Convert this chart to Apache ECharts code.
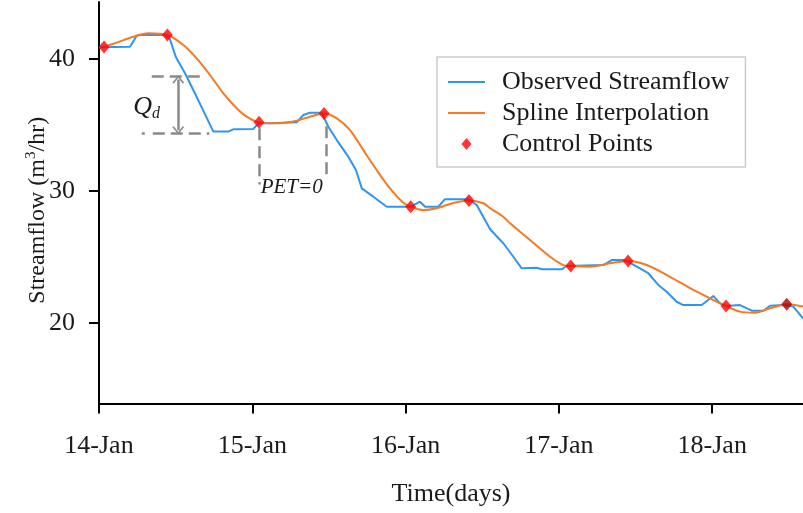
<!DOCTYPE html>
<html>
<head>
<meta charset="utf-8">
<script src="https://cdn.jsdelivr.net/npm/echarts@6/dist/echarts.min.js"></script>
<style>
  html, body { margin: 0; padding: 0; background: #fff; }
  #chart { width: 803px; height: 513px; }
</style>
</head>
<body>
<div id="chart"></div>
<script>
// Time axis: days since 14-Jan 00:00
const dayLabels = ['14-Jan', '15-Jan', '16-Jan', '17-Jan', '18-Jan'];
const dayTicks = [0, 1, 2, 3, 4];
const flowTicks = [20, 30, 40];

// Observed streamflow (m3/hr)
const obsDays = [0.000, 0.202, 0.246, 0.267, 0.431, 0.463, 0.502, 0.561, 0.615, 0.670,
  0.746, 0.843, 0.876, 1.007, 1.039, 1.115, 1.290, 1.333, 1.376, 1.453,
  1.496, 1.551, 1.626, 1.676, 1.714, 1.789, 1.877, 2.007, 2.033, 2.094,
  2.127, 2.213, 2.257, 2.409, 2.464, 2.551, 2.637, 2.670, 2.703, 2.757,
  2.855, 2.888, 3.018, 3.051, 3.290, 3.344, 3.431, 3.508, 3.583, 3.648,
  3.703, 3.768, 3.811, 3.931, 4.007, 4.051, 4.090, 4.181, 4.258, 4.333,
  4.377, 4.464, 4.529, 4.592];
const obsFlow = [40.89, 40.93, 41.77, 41.82, 41.82, 41.49, 40.13, 38.92, 37.65, 36.34,
  34.50, 34.50, 34.67, 34.70, 35.13, 35.13, 35.20, 35.76, 35.93, 35.93,
  34.87, 33.86, 32.60, 31.59, 30.20, 29.57, 28.81, 28.81, 28.81, 29.19,
  28.81, 28.81, 29.38, 29.38, 28.94, 27.10, 26.04, 25.53, 25.02, 24.14,
  24.19, 24.07, 24.07, 24.32, 24.39, 24.77, 24.77, 24.27, 23.77, 22.88,
  22.37, 21.61, 21.36, 21.36, 22.05, 21.49, 21.29, 21.36, 20.93, 20.93,
  21.31, 21.36, 21.24, 20.36];

// Spline through the control points
const splDays = [0.033, 0.115, 0.224, 0.322, 0.446, 0.550, 0.637, 0.724, 0.811, 0.898,
  0.963, 1.044, 1.159, 1.290, 1.376, 1.468, 1.551, 1.637, 1.724, 1.811,
  1.898, 1.985, 2.033, 2.115, 2.203, 2.311, 2.413, 2.507, 2.551, 2.637,
  2.681, 2.746, 2.811, 2.942, 3.029, 3.077, 3.203, 3.333, 3.451, 3.573,
  3.725, 3.877, 4.007, 4.090, 4.181, 4.279, 4.377, 4.486, 4.592];
const splFlow = [40.91, 41.24, 41.69, 41.95, 41.82, 41.06, 40.05, 38.79, 37.40, 36.27,
  35.63, 35.20, 35.13, 35.33, 35.63, 35.87, 35.50, 34.62, 33.10, 31.59,
  30.20, 29.11, 28.81, 28.56, 28.70, 29.09, 29.28, 29.07, 28.69, 28.05,
  27.55, 26.92, 26.29, 25.02, 24.39, 24.32, 24.27, 24.52, 24.70, 24.39,
  23.50, 22.50, 21.74, 21.29, 20.86, 20.78, 21.11, 21.42, 21.24];

// Control points
const ctrlDays = [0.033, 0.446, 1.044, 1.468, 2.033, 2.413, 3.077, 3.451, 4.090, 4.486];
const ctrlFlow = [40.91, 41.82, 35.20, 35.87, 28.81, 29.28, 24.32, 24.70, 21.29, 21.42];

// Recession depth (Qd) and PET=0 window annotations, in data units
const qdUpper = { from: 0.344, to: 0.690, flow: 38.66 };
const qdLower = { from: 0.279, to: 0.720, flow: 34.37 };
const qdArrow = { day: 0.517, top: 38.45, bottom: 34.60 };
const qdText = { day: 0.310, flow: 36.36 };
const petLeft = { day: 1.044, top: 34.75, bottom: 30.50 };
const petRight = { day: 1.481, top: 34.90, bottom: 30.85 };
const petText = { day: 1.257, flow: 30.25 };

const zip = (xs, ys) => xs.map((x, i) => [x, ys[i]]);

const SERIF = 'Liberation Serif, Times New Roman, serif';
const TEXT = '#1a1a1a';
const GREY = '#8a8a8a';
const BLUE = '#2f95f2';
const ORANGE = '#f57a22';
const dash = [12, 6];
const chevron = 'path://M0,10 L6,0 L12,10 L10.4,10.9 L6,3.2 L1.6,10.9 Z';
const lineIcon = 'path://M0,0 L37,0 L37,2 L0,2 Z';
const diamondIcon = 'path://M5,0 L10,6 L5,12 L0,6 Z';

const chart = echarts.init(document.getElementById('chart'));
chart.setOption({
  animation: false,
  backgroundColor: '#fff',
  grid: { left: 99, right: 0, top: 2, bottom: 109.5, containLabel: false },
  legend: {
    orient: 'vertical',
    left: 437, top: 57,
    padding: [12, 16, 10, 11],
    itemGap: 5,
    itemWidth: 37, itemHeight: 12,
    symbolKeepAspect: true,
    borderColor: '#cccccc', borderWidth: 1.5,
    backgroundColor: '#fff',
    textStyle: { fontFamily: SERIF, fontSize: 26, color: TEXT, padding: [0, 0, 0, 12] },
    data: [
      { name: 'Observed Streamflow', icon: lineIcon, itemStyle: { color: BLUE } },
      { name: 'Spline Interpolation', icon: lineIcon, itemStyle: { color: ORANGE } },
      { name: 'Control Points', icon: diamondIcon, itemStyle: { color: '#ff0000' } }
    ]
  },
  xAxis: {
    type: 'value', min: 0, max: 4.592, interval: 1,
    name: 'Time(days)', nameLocation: 'middle', nameGap: 78,
    nameTextStyle: { fontFamily: SERIF, fontSize: 26, color: TEXT },
    axisLine: { onZero: false, lineStyle: { color: '#000', width: 2 } },
    axisTick: { show: true, inside: false, length: 10, customValues: dayTicks, lineStyle: { color: '#000', width: 2 } },
    axisLabel: { customValues: dayTicks, margin: 30, fontFamily: SERIF, fontSize: 26, color: TEXT,
      formatter: v => dayLabels[Math.round(v)] },
    splitLine: { show: false }
  },
  yAxis: {
    type: 'value', min: 13.9, max: 44.32,
    name: '{t|Streamflow (m}{s|3}{t|/hr)}', nameLocation: 'middle', nameGap: 47, nameRotate: 90,
    nameMoveOverlap: false,
    nameTextStyle: {
      padding: [0, 15, 0, 0],
      rich: {
        t: { fontFamily: SERIF, fontSize: 24, color: TEXT, lineHeight: 28 },
        s: { fontFamily: SERIF, fontSize: 15, color: TEXT, verticalAlign: 'top', lineHeight: 18 }
      }
    },
    axisLine: { show: true, onZero: false, lineStyle: { color: '#000', width: 2 } },
    axisTick: { show: true, inside: false, length: 10, customValues: flowTicks, lineStyle: { color: '#000', width: 2 } },
    axisLabel: { customValues: flowTicks, margin: 24, fontFamily: SERIF, fontSize: 26, color: TEXT },
    splitLine: { show: false }
  },
  series: [
    {
      name: 'Observed Streamflow', type: 'line', symbol: 'none', z: 2,
      data: zip(obsDays, obsFlow),
      lineStyle: { color: BLUE, width: 2 }, itemStyle: { color: BLUE },
      markLine: {
        silent: true, animation: false, symbol: 'none',
        label: { show: false },
        data: [
          [{ coord: [qdUpper.from, qdUpper.flow], lineStyle: { color: GREY, width: 2.5, type: dash } },
           { coord: [qdUpper.to, qdUpper.flow] }],
          [{ coord: [qdLower.from, qdLower.flow], lineStyle: { color: GREY, width: 2.5, type: [3, 8, 12, 6, 12, 6, 12, 6, 12, 6] } },
           { coord: [qdLower.to, qdLower.flow] }],
          [{ coord: [qdArrow.day, qdArrow.top], symbol: chevron, symbolSize: [12, 8], lineStyle: { color: GREY, width: 2.5, type: 'solid' }, itemStyle: { color: GREY } },
           { coord: [qdArrow.day, qdArrow.bottom], symbol: chevron, symbolSize: [12, 8], itemStyle: { color: GREY } }],
          [{ coord: [petLeft.day, petLeft.top], lineStyle: { color: GREY, width: 2.5, type: dash } },
           { coord: [petLeft.day, petLeft.bottom] }],
          [{ coord: [petRight.day, petRight.top], lineStyle: { color: GREY, width: 2.5, type: dash } },
           { coord: [petRight.day, petRight.bottom] }]
        ]
      },
      markPoint: {
        silent: true, animation: false,
        symbol: 'circle', symbolSize: 1, itemStyle: { color: 'rgba(0,0,0,0)' },
        data: [
          { coord: [qdText.day, qdText.flow],
            label: { show: true, position: 'inside', formatter: '{q|Q}{d|d}',
              rich: {
                q: { fontFamily: SERIF, fontStyle: 'italic', fontSize: 26, color: TEXT, lineHeight: 30 },
                d: { fontFamily: SERIF, fontStyle: 'italic', fontSize: 16, color: TEXT, verticalAlign: 'bottom', lineHeight: 14 }
              } } },
          { coord: [petText.day, petText.flow],
            label: { show: true, position: 'inside', formatter: 'PET=0',
              fontFamily: SERIF, fontStyle: 'italic', fontSize: 21, color: TEXT } }
        ]
      }
    },
    {
      name: 'Spline Interpolation', type: 'line', symbol: 'none', smooth: 0.3, z: 3,
      data: zip(splDays, splFlow),
      lineStyle: { color: ORANGE, width: 2 }, itemStyle: { color: ORANGE }
    },
    {
      name: 'Control Points', type: 'scatter', symbol: 'diamond', symbolSize: [11, 13], z: 4,
      data: zip(ctrlDays, ctrlFlow).map((p, i) =>
        i === ctrlDays.length - 1 ? { value: p, itemStyle: { color: '#b00000' } } : p),
      itemStyle: { color: '#ff0000' }
    }
  ]
});
</script>
</body>
</html>
